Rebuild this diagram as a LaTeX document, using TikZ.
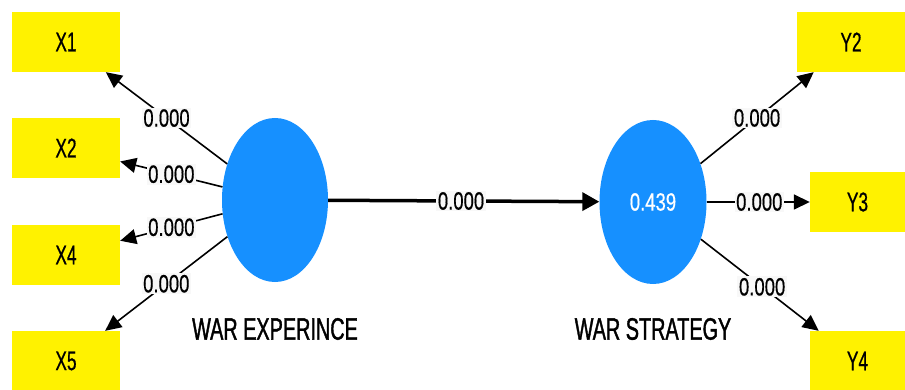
\documentclass[tikz,border=0pt]{standalone}
\usepackage{fontspec}
\setmainfont{Liberation Sans}
\newfontfamily\numfont[FakeStretch=0.74,FakeBold=0.4]{Liberation Sans}
\newfontfamily\capfont[FakeStretch=0.64,FakeBold=0.6]{Liberation Sans}
\newfontfamily\namefont[FakeStretch=0.64,FakeBold=1.2]{Liberation Sans}
\usetikzlibrary{arrows.meta,shapes.geometric}
\definecolor{lvblue}{RGB}{22,144,255}
\definecolor{lblbg}{RGB}{248,248,248}
\tikzset{
  indbox/.style={fill=yellow, minimum width=108pt, minimum height=60pt, inner sep=0pt,
    font=\capfont\fontsize{27}{30}\selectfont},
  latent/.style={ellipse, fill=lvblue, inner sep=0pt, text=white,
    font=\numfont\fontsize{25}{30}\selectfont},
  latname/.style={font=\namefont\fontsize{31}{34}\selectfont},
  loadarrow/.style={draw=black, line width=1.6pt, -{Triangle[length=16pt,width=15pt]}},
  patharrow/.style={draw=black, line width=3.5pt, -{Triangle[length=17pt,width=18pt]}},
  coef/.style={fill=lblbg, inner sep=1.5pt, font=\numfont\fontsize{25}{28}\selectfont, text=black}
}
\begin{document}
\begin{tikzpicture}[x=1pt,y=-1pt]
\useasboundingbox[fill=white] (0,0) rectangle (905,390);
% indicator boxes
\node[indbox] (x1) at (66,42) {X1};
\node[indbox] (x2) at (66,148) {X2};
\node[indbox] (x4) at (66,255) {X4};
\node[indbox] (x5) at (66,361) {X5};
\node[indbox] (y2) at (851,42) {Y2};
\node[indbox, minimum width=95pt] (y3) at (857.5,202) {Y3};
\node[indbox, minimum width=95pt] (y4) at (857.5,361) {Y4};
% latent variables
\node[latent, minimum width=106pt, minimum height=164pt] (we) at (275,200) {};
\node[latent, minimum width=107pt, minimum height=164pt] (ws) at (653,202) {0.439};
\node[latname] (wel) at (275,329) {WAR EXPERINCE};
\node[latname] (wsl) at (653,329) {WAR STRATEGY};
% loadings
\draw[loadarrow] (we) -- node[coef, pos=0.5] {0.000} (x1);
\draw[loadarrow] (we) -- node[coef, pos=0.5] {0.000} (x2);
\draw[loadarrow] (we) -- node[coef, pos=0.5] {0.000} (x4);
\draw[loadarrow] (we) -- node[coef, pos=0.5] {0.000} (x5);
\draw[loadarrow] (ws) -- node[coef, pos=0.5] {0.000} (y2);
\draw[loadarrow] (ws) -- node[coef, pos=0.51] {0.000} (y3);
\draw[loadarrow] (ws) -- node[coef, pos=0.52] {0.000} (y4);
% path
\draw[patharrow] (we) -- node[coef, pos=0.49] {0.000} (ws);
\end{tikzpicture}
\end{document}
